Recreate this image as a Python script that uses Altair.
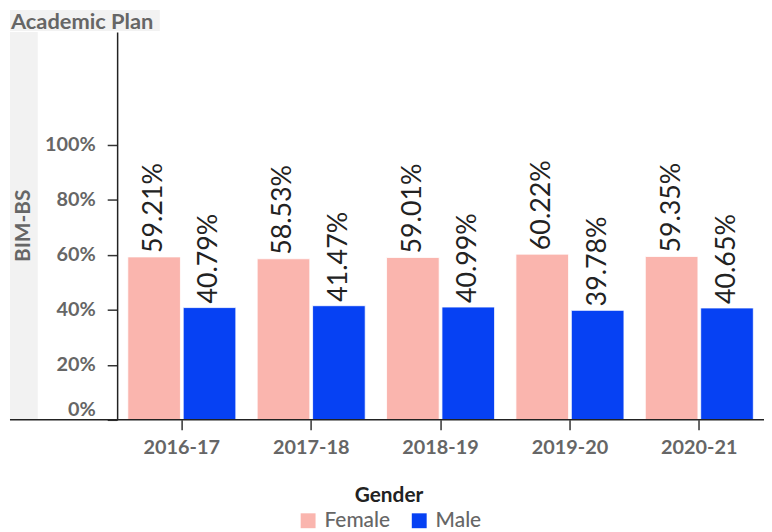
import altair as alt
import pandas as pd

years = ["2016-17", "2017-18", "2018-19", "2019-20", "2020-21"]
female = [0.5921, 0.5853, 0.5901, 0.6022, 0.5935]
male = [0.4079, 0.4147, 0.4099, 0.3978, 0.4065]
genders = ["Female", "Male"]
colors = ["#fab5ae", "#0641f3"]
y_ticks = [0, 0.2, 0.4, 0.6, 0.8, 1.0]
col_header = ["Academic Plan"]
row_header = ["BIM-BS"]

rows = []
for i, yr in enumerate(years):
    rows.append({"year": yr, "gender": genders[0], "pct": female[i]})
    rows.append({"year": yr, "gender": genders[1], "pct": male[i]})
df = pd.DataFrame(rows)

W, H = 652, 391
FONT = "Lato"
GRAY = "#666666"
BAND = "#f2f2f2"

x_enc = alt.X(
    "year:N", sort=years, title=None,
    scale=alt.Scale(paddingInner=0.165, paddingOuter=0.0825),
    axis=alt.Axis(labelAngle=0, labelFont=FONT, labelFontSize=20, labelFontWeight="bold",
                  labelColor=GRAY, tickSize=10, labelPadding=8, domain=False,
                  tickColor="#333333", tickWidth=1.5),
)
xo_enc = alt.XOffset("gender:N", sort=genders, scale=alt.Scale(paddingInner=0.05, paddingOuter=0))
y_enc = alt.Y(
    "pct:Q", title=None,
    scale=alt.Scale(domain=[0, 1.41], nice=False),
    axis=alt.Axis(values=y_ticks, format=".0%", grid=False, labelFlush=True,
                  labelFont=FONT, labelFontSize=20, labelFontWeight="bold", labelColor=GRAY,
                  tickSize=10, labelPadding=12, domainColor="#222222", domainWidth=1.5,
                  tickColor="#333333", tickWidth=1.5),
)

base = alt.Chart(df)

bars = base.mark_bar(stroke="white", strokeWidth=0.8).encode(
    x=x_enc, xOffset=xo_enc, y=y_enc,
    color=alt.Color(
        "gender:N", scale=alt.Scale(domain=genders, range=colors), title="Gender",
        legend=alt.Legend(orient="none", legendX=182, legendY=457, direction="horizontal",
                          titleAnchor="middle", symbolType="square", symbolSize=225,
                          symbolStrokeWidth=0, labelFont=FONT, labelFontSize=21,
                          labelColor=GRAY, labelFontWeight=500, titleFont=FONT,
                          titleFontSize=21, titleFontWeight="bold", titleColor="#222222",
                          columnPadding=18, labelOffset=6, titlePadding=4),
    ),
)

labels = base.mark_text(angle=270, align="left", baseline="middle", dx=4,
                        font=FONT, fontSize=27, color="#222222").encode(
    x=x_enc, xOffset=xo_enc, y=y_enc,
    text=alt.Text("pct:Q", format=".2%"),
)

col_df = pd.DataFrame({"t": col_header})
row_df = pd.DataFrame({"t": row_header})

col_band = alt.Chart(col_df).mark_rect(color=BAND).encode(
    x=alt.value(-108), x2=alt.value(43), y=alt.value(-22), y2=alt.value(-1))
col_text = alt.Chart(col_df).mark_text(align="left", baseline="middle", font=FONT,
                                       fontSize=22, fontWeight="bold", color=GRAY).encode(
    x=alt.value(-107), y=alt.value(-10), text="t:N")
row_band = alt.Chart(row_df).mark_rect(color=BAND).encode(
    x=alt.value(-108), x2=alt.value(-80), y=alt.value(0), y2=alt.value(H))
row_text = alt.Chart(row_df).mark_text(angle=270, align="center", baseline="middle", font=FONT,
                                       fontSize=21, fontWeight="bold", color=GRAY).encode(
    x=alt.value(-94), y=alt.value(H / 2), text="t:N")
base_rule = alt.Chart(row_df).mark_rule(color="#222222", strokeWidth=1.5).encode(
    x=alt.value(-108), x2=alt.value(W), y=alt.value(H))

chart = alt.layer(col_band, row_band, col_text, row_text, bars, labels, base_rule).properties(
    width=W, height=H,
    autosize=alt.AutoSizeParams(type="none"),
    padding={"left": 110, "top": 22, "right": 0, "bottom": 110},
).configure_view(stroke=None)

chart.save("out.html", embed_options={"renderer": "svg", "actions": False})
